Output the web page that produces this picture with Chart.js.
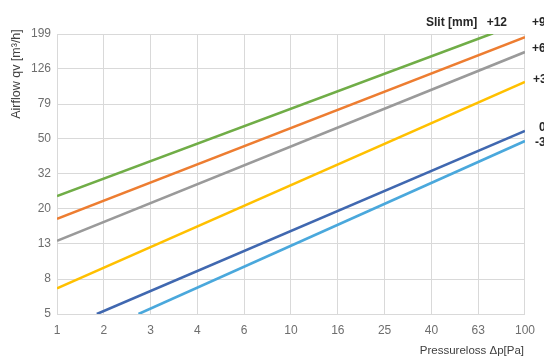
<!DOCTYPE html>
<html><head><meta charset="utf-8">
<script src="https://cdn.jsdelivr.net/npm/chart.js@4.4.0/dist/chart.umd.min.js"></script>
<style>html,body{margin:0;padding:0;background:#fff;overflow:hidden}</style>
</head><body>
<canvas id="c" width="544" height="362"></canvas>
<script>
// Axis ticks (log spaced, 10^0.2 steps)
const xTickValues = [1, 1.585, 2.512, 3.981, 6.31, 10, 15.85, 25.12, 39.81, 63.1, 100];
const xTickLabels = ['1', '2', '3', '4', '6', '10', '16', '25', '40', '63', '100'];
const yTickValues = [5, 7.924, 12.56, 19.91, 31.55, 50, 79.24, 125.6, 199.05];
const yTickLabels = ['5', '8', '13', '20', '32', '50', '79', '126', '199'];

// Series: slit setting, line from (pressureStart, airflowStart) to (pressureEnd, airflowEnd)
const slitLabels = ['+12', '+9', '+6', '+3', '0', '-3'];
const pressureStart = [1, 1, 1, 1, 1.48, 2.23];
const airflowStart = [23.6, 17.5, 13.1, 7.0, 5.0, 5.0];
const pressureEnd = [73, 100, 100, 100, 100, 100];
const airflowEnd = [201, 191, 157, 106, 55.6, 48.7];
const seriesColors = ['#70ad47', '#ed7d31', '#9a9a9a', '#ffc000', '#4068b0', '#4aa8dc'];

const datasets = slitLabels.map((lab, i) => ({
  label: lab,
  data: [{x: pressureStart[i], y: airflowStart[i]}, {x: pressureEnd[i], y: airflowEnd[i]}],
  borderColor: seriesColors[i],
  backgroundColor: seriesColors[i],
  borderWidth: 2.6,
  pointRadius: 0,
  tension: 0,
  fill: false
}));

const textPlugin = {
  id: 'texts',
  afterDraw(chart) {
    const ctx = chart.ctx;
    ctx.save();
    ctx.fillStyle = '#404040';
    ctx.font = '12.5px "Liberation Sans", Arial, sans-serif';
    ctx.textAlign = 'center';
    ctx.textBaseline = 'middle';
    ctx.translate(17, 74);
    ctx.rotate(-Math.PI / 2);
    ctx.fillText('Airflow qv [m³/h]', 0, 0);
    ctx.restore();
    ctx.save();
    ctx.fillStyle = '#404040';
    ctx.font = '11.5px "Liberation Sans", Arial, sans-serif';
    ctx.textAlign = 'right';
    ctx.textBaseline = 'middle';
    ctx.fillText('Pressureloss Δp[Pa]', 524, 351);
    ctx.fillStyle = '#262626';
    ctx.font = 'bold 12px "Liberation Sans", Arial, sans-serif';
    ctx.textAlign = 'left';
    ctx.fillText('Slit [mm]', 426, 23);
    ctx.textAlign = 'right';
    ctx.fillText(slitLabels[0], 507, 23);
    ctx.textAlign = 'left';
    const pos = [null, [532, 23], [532, 49], [533, 80], [539, 128], [535, 143]];
    for (let i = 1; i < slitLabels.length; i++) {
      ctx.fillText(slitLabels[i], pos[i][0], pos[i][1]);
    }
    ctx.restore();
  }
};

const tickFont = { family: '"Liberation Sans", Arial, sans-serif', size: 12 };

new Chart(document.getElementById('c'), {
  type: 'line',
  data: { datasets },
  options: {
    responsive: false,
    animation: false,
    devicePixelRatio: 1,
    layout: { padding: { top: 34, right: 16, left: 0, bottom: 0 } },
    plugins: { legend: { display: false }, tooltip: { enabled: false } },
    scales: {
      x: {
        type: 'logarithmic',
        min: 1, max: 100,
        afterBuildTicks: s => { s.ticks = xTickValues.map(v => ({ value: v })); },
        afterFit: s => { s.height = 48; },
        grid: { color: '#d9d9d9', drawTicks: false, lineWidth: 1 },
        border: { display: false },
        ticks: {
          autoSkip: false, maxRotation: 0, padding: 9,
          color: '#6e6e6e', font: tickFont,
          callback: (v, i) => xTickLabels[i]
        }
      },
      y: {
        type: 'logarithmic',
        min: 5, max: 199.05,
        afterBuildTicks: s => { s.ticks = yTickValues.map(v => ({ value: v })); },
        afterFit: s => { s.width = 57; },
        grid: { color: '#d9d9d9', drawTicks: false, lineWidth: 1 },
        border: { display: false },
        ticks: {
          autoSkip: false, padding: 6,
          color: '#6e6e6e', font: tickFont,
          callback: (v, i) => yTickLabels[i]
        }
      }
    }
  },
  plugins: [textPlugin]
});
</script>
</body></html>
